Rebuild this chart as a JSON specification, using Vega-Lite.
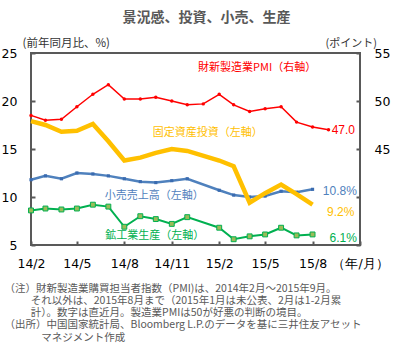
{
  "$schema": "https://vega.github.io/schema/vega-lite/v6.json",
  "width": 329,
  "height": 192,
  "autosize": {"type": "none"},
  "padding": {"left": 31, "top": 53, "right": 39, "bottom": 107},
  "background": "white",
  "title": {
    "text": "景況感、投資、小売、生産",
    "font": "Noto Sans CJK JP",
    "fontSize": 14,
    "fontWeight": "bold",
    "color": "#595959",
    "anchor": "middle",
    "frame": "group",
    "dx": 11,
    "offset": 12
  },
  "config": {
    "view": {"stroke": "#595959", "strokeWidth": 2},
    "axis": {
      "grid": false,
      "domain": false,
      "ticks": true,
      "tickSize": -4,
      "tickWidth": 2,
      "tickColor": "#595959",
      "labelFont": "DejaVu Sans",
      "labelFontSize": 12.5,
      "labelColor": "#000000",
      "labelFlush": false,
      "labelOverlap": false,
      "labelBound": false,
      "titleFont": "Noto Sans CJK JP",
      "titleFontWeight": "normal",
      "titleColor": "#333333"
    }
  },
  "datasets": {
    "left": [
      {"month": "2014-02-01", "series": "固定資産投資", "value": 17.9},
      {"month": "2014-03-01", "series": "固定資産投資", "value": 17.5},
      {"month": "2014-04-01", "series": "固定資産投資", "value": 16.8},
      {"month": "2014-05-01", "series": "固定資産投資", "value": 16.9},
      {"month": "2014-06-01", "series": "固定資産投資", "value": 17.6},
      {"month": "2014-07-01", "series": "固定資産投資", "value": 15.8},
      {"month": "2014-08-01", "series": "固定資産投資", "value": 13.8},
      {"month": "2014-09-01", "series": "固定資産投資", "value": 14.1},
      {"month": "2014-10-01", "series": "固定資産投資", "value": 14.6},
      {"month": "2014-11-01", "series": "固定資産投資", "value": 15.0},
      {"month": "2014-12-01", "series": "固定資産投資", "value": 14.8},
      {"month": "2015-02-01", "series": "固定資産投資", "value": 13.8},
      {"month": "2015-03-01", "series": "固定資産投資", "value": 13.2},
      {"month": "2015-04-01", "series": "固定資産投資", "value": 9.4},
      {"month": "2015-05-01", "series": "固定資産投資", "value": 10.4},
      {"month": "2015-06-01", "series": "固定資産投資", "value": 11.3},
      {"month": "2015-07-01", "series": "固定資産投資", "value": 10.3},
      {"month": "2015-08-01", "series": "固定資産投資", "value": 9.2},
      {"month": "2014-02-01", "series": "小売売上高", "value": 11.8},
      {"month": "2014-03-01", "series": "小売売上高", "value": 12.2},
      {"month": "2014-04-01", "series": "小売売上高", "value": 11.9},
      {"month": "2014-05-01", "series": "小売売上高", "value": 12.5},
      {"month": "2014-06-01", "series": "小売売上高", "value": 12.4},
      {"month": "2014-07-01", "series": "小売売上高", "value": 12.2},
      {"month": "2014-08-01", "series": "小売売上高", "value": 11.9},
      {"month": "2014-09-01", "series": "小売売上高", "value": 11.6},
      {"month": "2014-10-01", "series": "小売売上高", "value": 11.5},
      {"month": "2014-11-01", "series": "小売売上高", "value": 11.7},
      {"month": "2014-12-01", "series": "小売売上高", "value": 11.9},
      {"month": "2015-02-01", "series": "小売売上高", "value": 10.7},
      {"month": "2015-03-01", "series": "小売売上高", "value": 10.2},
      {"month": "2015-04-01", "series": "小売売上高", "value": 10.0},
      {"month": "2015-05-01", "series": "小売売上高", "value": 10.1},
      {"month": "2015-06-01", "series": "小売売上高", "value": 10.6},
      {"month": "2015-07-01", "series": "小売売上高", "value": 10.5},
      {"month": "2015-08-01", "series": "小売売上高", "value": 10.8},
      {"month": "2014-02-01", "series": "鉱工業生産", "value": 8.6},
      {"month": "2014-03-01", "series": "鉱工業生産", "value": 8.8},
      {"month": "2014-04-01", "series": "鉱工業生産", "value": 8.7},
      {"month": "2014-05-01", "series": "鉱工業生産", "value": 8.8},
      {"month": "2014-06-01", "series": "鉱工業生産", "value": 9.2},
      {"month": "2014-07-01", "series": "鉱工業生産", "value": 9.0},
      {"month": "2014-08-01", "series": "鉱工業生産", "value": 6.9},
      {"month": "2014-09-01", "series": "鉱工業生産", "value": 8.0},
      {"month": "2014-10-01", "series": "鉱工業生産", "value": 7.7},
      {"month": "2014-11-01", "series": "鉱工業生産", "value": 7.2},
      {"month": "2014-12-01", "series": "鉱工業生産", "value": 7.9},
      {"month": "2015-02-01", "series": "鉱工業生産", "value": 6.8},
      {"month": "2015-03-01", "series": "鉱工業生産", "value": 5.6},
      {"month": "2015-04-01", "series": "鉱工業生産", "value": 5.9},
      {"month": "2015-05-01", "series": "鉱工業生産", "value": 6.1},
      {"month": "2015-06-01", "series": "鉱工業生産", "value": 6.8},
      {"month": "2015-07-01", "series": "鉱工業生産", "value": 6.0},
      {"month": "2015-08-01", "series": "鉱工業生産", "value": 6.1}
    ],
    "right": [
      {"month": "2014-02-01", "value": 48.5},
      {"month": "2014-03-01", "value": 48.0},
      {"month": "2014-04-01", "value": 48.1},
      {"month": "2014-05-01", "value": 49.4},
      {"month": "2014-06-01", "value": 50.7},
      {"month": "2014-07-01", "value": 51.7},
      {"month": "2014-08-01", "value": 50.2},
      {"month": "2014-09-01", "value": 50.2},
      {"month": "2014-10-01", "value": 50.4},
      {"month": "2014-11-01", "value": 50.0},
      {"month": "2014-12-01", "value": 49.6},
      {"month": "2015-01-01", "value": 49.7},
      {"month": "2015-02-01", "value": 50.7},
      {"month": "2015-03-01", "value": 49.6},
      {"month": "2015-04-01", "value": 48.9},
      {"month": "2015-05-01", "value": 49.2},
      {"month": "2015-06-01", "value": 49.4},
      {"month": "2015-07-01", "value": 47.8},
      {"month": "2015-08-01", "value": 47.3},
      {"month": "2015-09-01", "value": 47.0}
    ],
    "names": [
      {"month": "2014-09-25", "value": 16.67, "series": "固定資産投資", "label": "固定資産投資（左軸）"},
      {"month": "2014-06-24", "value": 10.1, "series": "小売売上高", "label": "小売売上高（左軸）"},
      {"month": "2014-06-25", "value": 5.94, "series": "鉱工業生産", "label": "鉱工業生産（左軸）"}
    ],
    "ends": [
      {"month": "2015-08-21", "value": 10.63, "series": "小売売上高", "label": "10.8%"},
      {"month": "2015-08-29", "value": 8.47, "series": "固定資産投資", "label": "9.2%"},
      {"month": "2015-09-03", "value": 5.73, "series": "鉱工業生産", "label": "6.1%"}
    ],
    "rightnames": [
      {"month": "2014-12-22", "value": 53.44, "label": "財新製造業PMI（右軸）"}
    ],
    "rightends": [
      {"month": "2015-09-07", "value": 46.98, "label": "47.0"}
    ]
  },
  "encoding": {
    "x": {
      "field": "month",
      "type": "temporal",
      "scale": {
        "type": "utc",
        "domain": [
          {"year": 2014, "month": 2, "date": 1, "utc": true},
          {"year": 2015, "month": 11, "date": 1, "utc": true}
        ]
      },
      "axis": {
        "values": [
          {"year": 2014, "month": 2, "date": 1, "utc": true},
          {"year": 2014, "month": 5, "date": 1, "utc": true},
          {"year": 2014, "month": 8, "date": 1, "utc": true},
          {"year": 2014, "month": 11, "date": 1, "utc": true},
          {"year": 2015, "month": 2, "date": 1, "utc": true},
          {"year": 2015, "month": 5, "date": 1, "utc": true},
          {"year": 2015, "month": 8, "date": 1, "utc": true},
          {"year": 2015, "month": 11, "date": 1, "utc": true}
        ],
        "labelExpr": "utcyear(datum.value) == 2015 && utcmonth(datum.value) == 10 ? '（年/月）' : utcFormat(datum.value, '%y/%-m')",
        "labelPadding": 16.5,
        "labelBaseline": "top",
        "title": [
          "（注）財新製造業購買担当者指数（PMI)は、2014年2月～2015年9月。",
          "\u200b\u3000\u3000\u2002それ以外は、2015年8月まで（2015年1月は未公表、2月は1-2月累",
          "\u200b\u3000\u3000\u2002計）。数字は直近月。製造業PMIは50が好悪の判断の境目。",
          "（出所）中国国家統計局、Bloomberg L.P.のデータを基に三井住友アセット",
          "\u200b\u3000\u3000\u3000\u2002マネジメント作成"
        ],
        "titleAnchor": "start",
        "titleAlign": "left",
        "titleBaseline": "top",
        "titleX": -27,
        "titleY": 38,
        "titleFontSize": 10.5,
        "titleLineHeight": 12.3,
        "titleColor": "#595959"
      }
    }
  },
  "layer": [
    {
      "data": {"name": "left"},
      "encoding": {
        "y": {
          "field": "value",
          "type": "quantitative",
          "scale": {"domain": [5, 25], "nice": false, "zero": false},
          "axis": {
            "orient": "left",
            "values": [5, 10, 15, 20, 25],
            "labelPadding": 18,
            "title": "(前年同月比、%)",
            "titleAngle": 0,
            "titleX": -9,
            "titleY": -10,
            "titleAlign": "left",
            "titleBaseline": "middle",
            "titleFontSize": 11.5
          }
        }
      },
      "layer": [
        {
          "data": {"values": [{}]},
          "mark": {"type": "rule", "color": "#000000", "strokeWidth": 1},
          "encoding": {
            "x": {"datum": {"year": 2014, "month": 2, "date": 1, "utc": true}, "type": "temporal"},
            "x2": {"datum": {"year": 2015, "month": 11, "date": 1, "utc": true}},
            "y": {"datum": 20}
          }
        },
        {
          "transform": [{"filter": "datum.series == '小売売上高'"}],
          "mark": {"type": "line", "color": "#4F81BD", "strokeWidth": 2.5}
        },
        {
          "transform": [{"filter": "datum.series == '小売売上高'"}],
          "mark": {"type": "point", "shape": "square", "filled": true, "size": 10, "color": "#3A6BB0", "opacity": 1}
        },
        {
          "transform": [{"filter": "datum.series == '鉱工業生産'"}],
          "mark": {"type": "line", "color": "#00B050", "strokeWidth": 2}
        },
        {
          "transform": [{"filter": "datum.series == '鉱工業生産'"}],
          "mark": {"type": "point", "shape": "square", "filled": true, "size": 24, "fill": "#9BBB59", "stroke": "#00B050", "strokeWidth": 1, "opacity": 1}
        },
        {
          "transform": [{"filter": "datum.series == '固定資産投資'"}],
          "mark": {"type": "line", "color": "#FFC000", "strokeWidth": 4.5}
        },
        {
          "data": {"name": "names"},
          "mark": {"type": "text", "align": "left", "baseline": "middle", "font": "Noto Sans CJK JP", "fontSize": 11},
          "encoding": {
            "text": {"field": "label"},
            "color": {
              "field": "series",
              "type": "nominal",
              "scale": {"domain": ["固定資産投資", "小売売上高", "鉱工業生産"], "range": ["#FFC000", "#4F81BD", "#00B050"]},
              "legend": null
            }
          }
        },
        {
          "data": {"name": "ends"},
          "mark": {"type": "text", "align": "left", "baseline": "middle", "font": "Liberation Sans", "fontSize": 12},
          "encoding": {
            "text": {"field": "label"},
            "color": {
              "field": "series",
              "type": "nominal",
              "scale": {"domain": ["固定資産投資", "小売売上高", "鉱工業生産"], "range": ["#FFC000", "#4F81BD", "#00B050"]},
              "legend": null
            }
          }
        }
      ]
    },
    {
      "data": {"name": "right"},
      "encoding": {
        "y": {
          "field": "value",
          "type": "quantitative",
          "scale": {"domain": [35, 55], "nice": false, "zero": false},
          "axis": {
            "orient": "right",
            "values": [35, 40, 45, 50, 55],
            "labelExpr": "datum.value >= 45 ? datum.label : ''",
            "labelPadding": 18,
            "title": "(ポイント)",
            "titleAngle": 0,
            "titleX": -35,
            "titleY": -10,
            "titleAlign": "left",
            "titleBaseline": "middle",
            "titleFontSize": 11
          }
        }
      },
      "layer": [
        {
          "mark": {"type": "line", "color": "#FF0000", "strokeWidth": 1.5}
        },
        {
          "mark": {"type": "point", "shape": "circle", "filled": true, "size": 12, "color": "#FF0000", "opacity": 1}
        },
        {
          "data": {"name": "rightnames"},
          "mark": {"type": "text", "align": "left", "baseline": "middle", "font": "Noto Sans CJK JP", "fontSize": 11, "color": "#FF0000"},
          "encoding": {"text": {"field": "label"}}
        },
        {
          "data": {"name": "rightends"},
          "mark": {"type": "text", "align": "left", "baseline": "middle", "font": "Liberation Sans", "fontSize": 12, "color": "#FF0000"},
          "encoding": {"text": {"field": "label"}}
        }
      ]
    }
  ],
  "resolve": {"scale": {"y": "independent"}}
}
